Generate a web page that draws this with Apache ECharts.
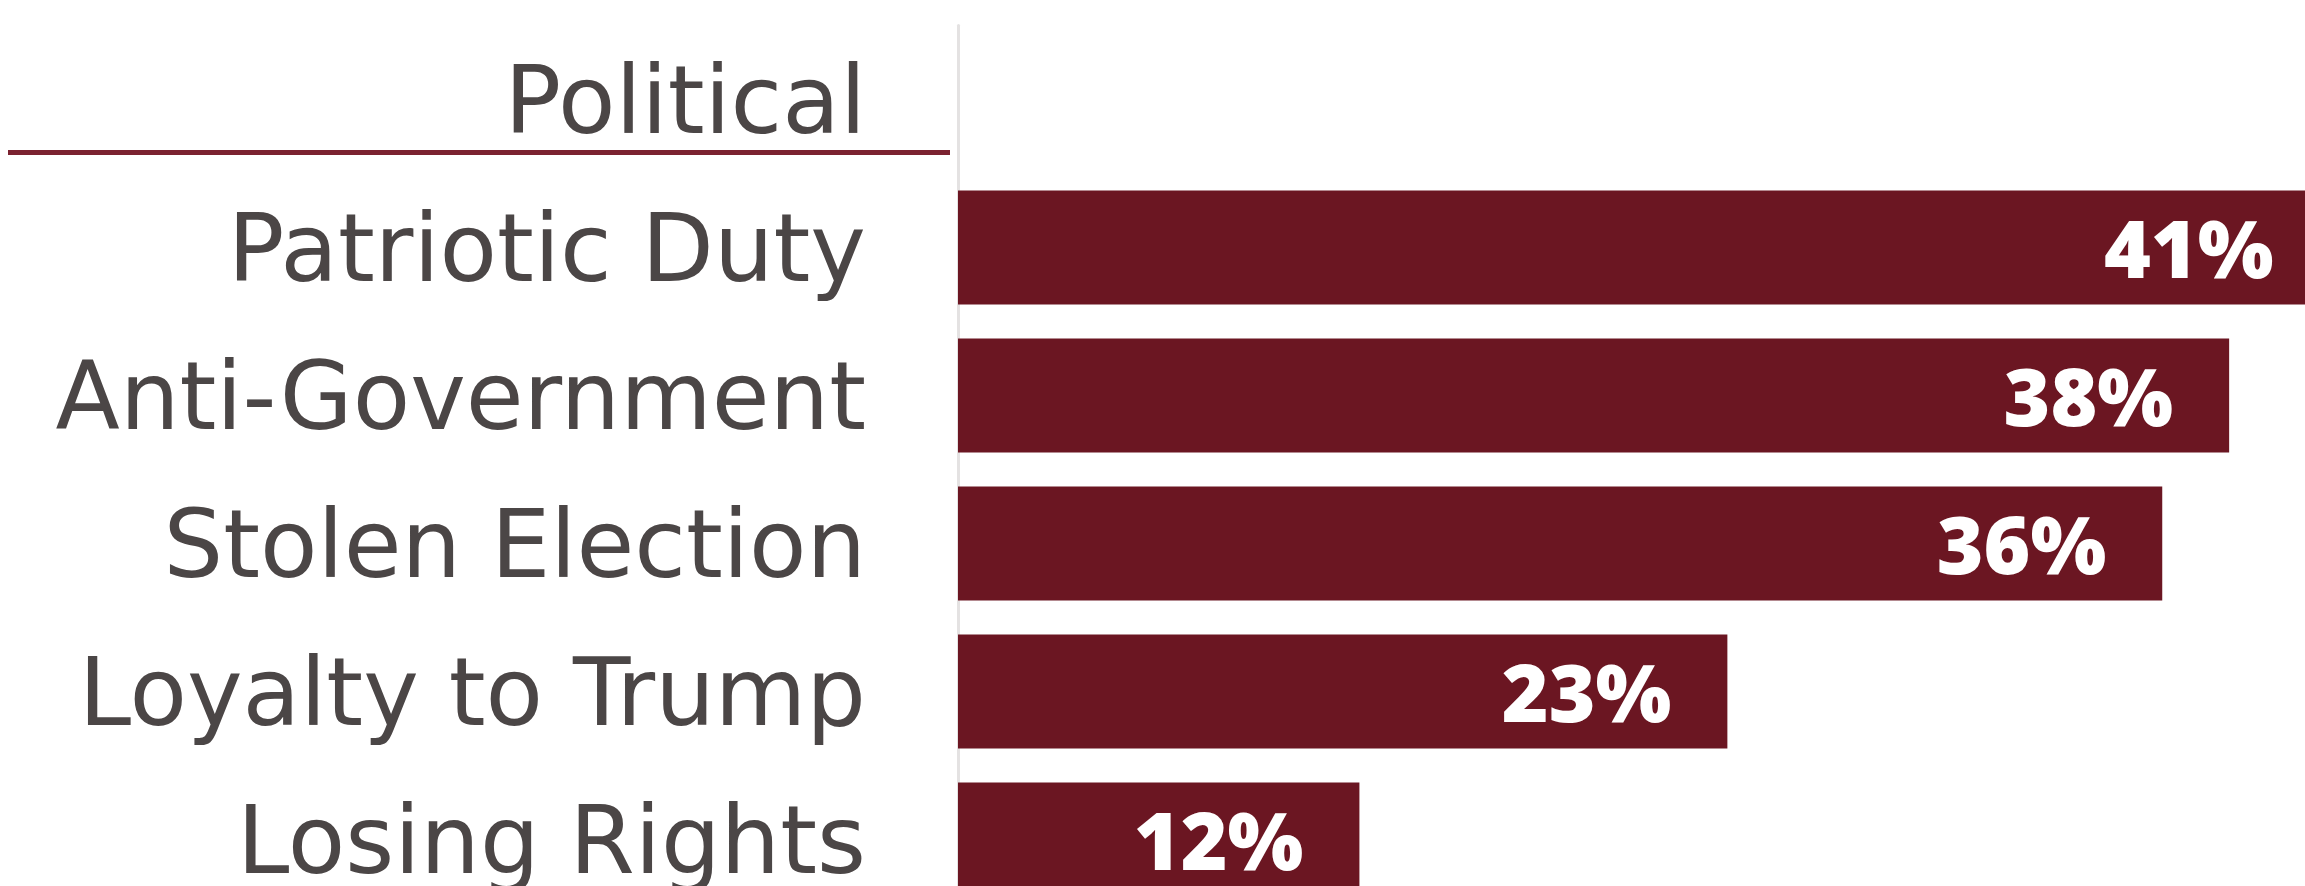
<!DOCTYPE html>
<html>
<head>
<meta charset="utf-8">
<style>
  html, body { margin: 0; padding: 0; background: #ffffff; }
  #chart { width: 2305px; height: 886px; }
</style>
<script src="https://cdn.jsdelivr.net/npm/echarts@6/dist/echarts.min.js"></script>
</head>
<body>
<div id="chart"></div>
<script>
// Data
const categories = ['Political', 'Patriotic Duty', 'Anti-Government', 'Stolen Election', 'Loyalty to Trump', 'Losing Rights'];
const values = ['-', 41, 38, 36, 23, 12];
const headerCategory = 'Political';

const BAR_COLOR = '#6b1622';
const TEXT_COLOR = '#4b4646';

const chart = echarts.init(document.getElementById('chart'), null, { renderer: 'canvas' });

const option = {
  backgroundColor: '#ffffff',
  animation: false,
  grid: {
    left: 958, top: 25.5, width: 1371.5, height: 888,
    containLabel: false,
    outerBoundsMode: 'none'
  },
  xAxis: {
    type: 'value',
    min: 0,
    max: 41,
    show: false
  },
  yAxis: {
    type: 'category',
    data: categories,
    inverse: true,
    offset: 3,
    axisLine: { show: true, lineStyle: { color: '#e4e2e2', width: 3 } },
    axisTick: { show: false },
    splitLine: { show: false },
    axisLabel: {
      margin: 89,
      formatter: v => '{t|' + v + '}',
      rich: {
        t: {
          color: TEXT_COLOR,
          fontFamily: 'DejaVu Sans',
          fontSize: 94,
          padding: [19, 0, 0, 0]
        }
      }
    }
  },
  series: [{
    type: 'bar',
    data: values,
    barWidth: 114,
    itemStyle: { color: BAR_COLOR },
    label: {
      show: true,
      position: 'insideRight',
      distance: 56,
      offset: [0, 8],
      formatter: p => p.value + '%',
      color: '#ffffff',
      fontFamily: 'Open Sans',
      fontWeight: 800,
      fontSize: 80
    }
  }]
};

chart.setOption(option);

const yHeader = chart.convertToPixel({ yAxisIndex: 0 }, headerCategory);
chart.setOption({
  graphic: [{
    type: 'line',
    shape: { x1: 8, y1: yHeader + 53, x2: 950, y2: yHeader + 53 },
    style: { stroke: '#7b2230', lineWidth: 5 }
  }]
});
</script>
</body>
</html>
